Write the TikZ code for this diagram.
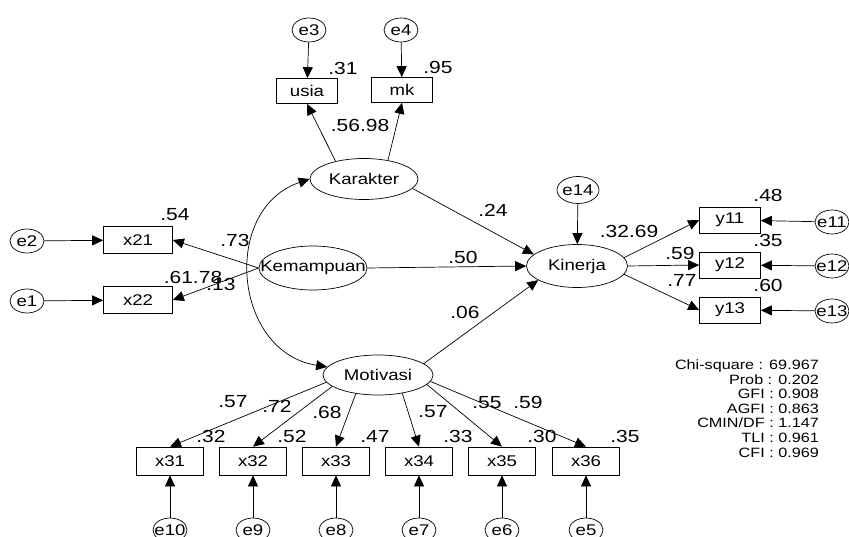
\documentclass[tikz,border=0pt]{standalone}
\usepackage{fontspec}
\setmainfont{Liberation Sans}[FakeStretch=1.2]
\usetikzlibrary{arrows.meta,shapes.geometric}
\newcommand{\ztext}[1]{\makebox[0pt]{#1}}
\begin{document}
\begin{tikzpicture}[x=1pt,y=-1pt,
  lat/.style={draw, ellipse, inner sep=0, line width=0.7pt, font=\fontsize{15.5}{18}\selectfont},
  err/.style={draw, ellipse, inner sep=0, line width=0.7pt, minimum width=34pt, minimum height=24pt, font=\fontsize{15.5}{18}\selectfont},
  obs/.style={draw, rectangle, inner sep=0, line width=0.7pt, minimum width=61pt, minimum height=25pt, font=\fontsize{15.5}{18}\selectfont},
  xobs/.style={obs, minimum width=67pt, minimum height=28pt},
  lbl/.style={inner sep=0, font=\fontsize{17.5}{20}\selectfont},
  stat/.style={inner sep=0, anchor=base east, font=\fontsize{13.5}{15}\selectfont},
  arr/.style={line width=0.7pt, -{Triangle[length=11pt,width=10pt]}},
  cov/.style={line width=0.7pt, {Triangle[length=11pt,width=10pt]}-{Triangle[length=11pt,width=10pt]}}
]
\useasboundingbox[fill=white] (0,0) rectangle (849,537);

% latent variables
\node[lat, minimum width=108pt, minimum height=41pt] (Kar) at (364,179) {\ztext{Karakter}};
\node[lat, minimum width=108pt, minimum height=44pt] (Kem) at (313,268) {\ztext{Kemampuan}};
\node[lat, minimum width=110pt, minimum height=40pt] (Mot) at (378,375) {\ztext{Motivasi}};
\node[lat, minimum width=101pt, minimum height=43pt] (Kin) at (577,266) {\ztext{Kinerja}};

% observed
\node[obs] (usia) at (307,91) {usia};
\node[obs] (mk) at (402,90) {mk};
\node[obs, minimum width=69pt, minimum height=27pt] (x21) at (138,240) {x21};
\node[obs, minimum width=69pt, minimum height=27pt] (x22) at (138,300) {x22};
\node[obs, minimum height=26pt] (y11) at (730,220) {y11};
\node[obs, minimum height=26pt] (y12) at (730,265) {y12};
\node[obs, minimum height=26pt] (y13) at (730,310) {y13};
\node[xobs] (x31) at (170,461) {x31};
\node[xobs] (x32) at (253,461) {x32};
\node[xobs] (x33) at (336,461) {x33};
\node[xobs] (x34) at (419,461) {x34};
\node[xobs] (x35) at (502,461) {x35};
\node[xobs] (x36) at (586,461) {x36};

% errors
\node[err] (e3) at (309,30) {\ztext{e3}};
\node[err] (e4) at (401,30) {\ztext{e4}};
\node[err] (e2) at (27,241) {\ztext{e2}};
\node[err] (e1) at (27,301) {\ztext{e1}};
\node[err, minimum width=42pt, minimum height=27pt] (e14) at (578,190) {\ztext{e14}};
\node[err] (e11) at (832,222) {\ztext{e11}};
\node[err] (e12) at (832,266) {\ztext{e12}};
\node[err] (e13) at (832,311) {\ztext{e13}};
\node[err] (e10) at (170,530) {\ztext{e10}};
\node[err] (e9) at (253,530) {\ztext{e9}};
\node[err] (e8) at (336,530) {\ztext{e8}};
\node[err] (e7) at (419,530) {\ztext{e7}};
\node[err] (e6) at (502,530) {\ztext{e6}};
\node[err] (e5) at (586,530) {\ztext{e5}};

% error arrows
\draw[arr] (e3) -- (usia);
\draw[arr] (e4) -- (mk);
\draw[arr] (e2) -- (x21);
\draw[arr] (e1) -- (x22);
\draw[arr] (e14) -- (Kin);
\draw[arr] (e11) -- (y11);
\draw[arr] (e12) -- (y12);
\draw[arr] (e13) -- (y13);
\draw[arr] (e10) -- (x31);
\draw[arr] (e9) -- (x32);
\draw[arr] (e8) -- (x33);
\draw[arr] (e7) -- (x34);
\draw[arr] (e6) -- (x35);
\draw[arr] (e5) -- (x36);

% loadings
\draw[arr] (Kar.148) -- (usia.south);
\draw[arr] (Kar.38) -- (mk.south);
\draw[arr] (Kem.west) -- (x21.east);
\draw[arr] (Kem.west) -- (x22.east);
\draw[arr] (Kin.10) -- (y11.west);
\draw[arr] (Kin.east) -- (y12.west);
\draw[arr] (Kin.-10) -- (y13.west);
\draw[arr] (Mot.188) -- (x31.north);
\draw[arr] (Mot.194) -- (x32.north);
\draw[arr] (Mot.220) -- (x33.north);
\draw[arr] (Mot.323) -- (x34.north);
\draw[arr] (Mot.349) -- (x35.north);
\draw[arr] (Mot.353) -- (x36.north);

% structural paths
\draw[arr] (Kar.-11) -- (Kin.165);
\draw[arr] (Kem.east) -- (Kin.west);
\draw[arr] (Mot.14) -- (Kin.200);
\draw[cov] (Kar.west) .. controls (221,209) and (233,352) .. (Mot.171);

% estimates
\node[lbl] (l31) at (343,68) {.31};
\node[lbl] (l95) at (438,67) {.95};
\node[lbl] (l5698) at (360,125) {.56.98};
\node[lbl] (l24) at (493,210) {.24};
\node[lbl] (l50) at (463,257) {.50};
\node[lbl] (l06) at (465,312) {.06};
\node[lbl] (l54) at (175,215) {.54};
\node[lbl] (l6178) at (193,277) {.61.78};
\node[lbl] (l13) at (221,284) {.13};
\node[lbl] (l73) at (235,240) {.73};
\node[lbl] (l3269) at (629,231) {.32.69};
\node[lbl] (l48) at (768,195) {.48};
\node[lbl] (l35a) at (768,240) {.35};
\node[lbl] (l60) at (768,285) {.60};
\node[lbl] (l59a) at (680,253) {.59};
\node[lbl] (l77) at (682,280) {.77};
\node[lbl] (l57a) at (233,402) {.57};
\node[lbl] (l72) at (277,406) {.72};
\node[lbl] (l32) at (211,436) {.32};
\node[lbl] (l68) at (327,412) {.68};
\node[lbl] (l52) at (292,436) {.52};
\node[lbl] (l47) at (375,436) {.47};
\node[lbl] (l57b) at (433,412) {.57};
\node[lbl] (l33) at (458,436) {.33};
\node[lbl] (l55) at (487,403) {.55};
\node[lbl] (l59b) at (528,402) {.59};
\node[lbl] (l30) at (542,436) {.30};
\node[lbl] (l35b) at (625,436) {.35};

% fit statistics
\node[stat] (s1) at (819,369.5) {Chi-square : 69.967};
\node[stat] (s2) at (819,384.1) {Prob : 0.202};
\node[stat] (s3) at (819,398.7) {GFI : 0.908};
\node[stat] (s4) at (819,413.3) {AGFI : 0.863};
\node[stat] (s5) at (819,427.9) {CMIN/DF : 1.147};
\node[stat] (s6) at (819,442.5) {TLI : 0.961};
\node[stat] (s7) at (819,457.1) {CFI : 0.969};
\end{tikzpicture}
\end{document}
